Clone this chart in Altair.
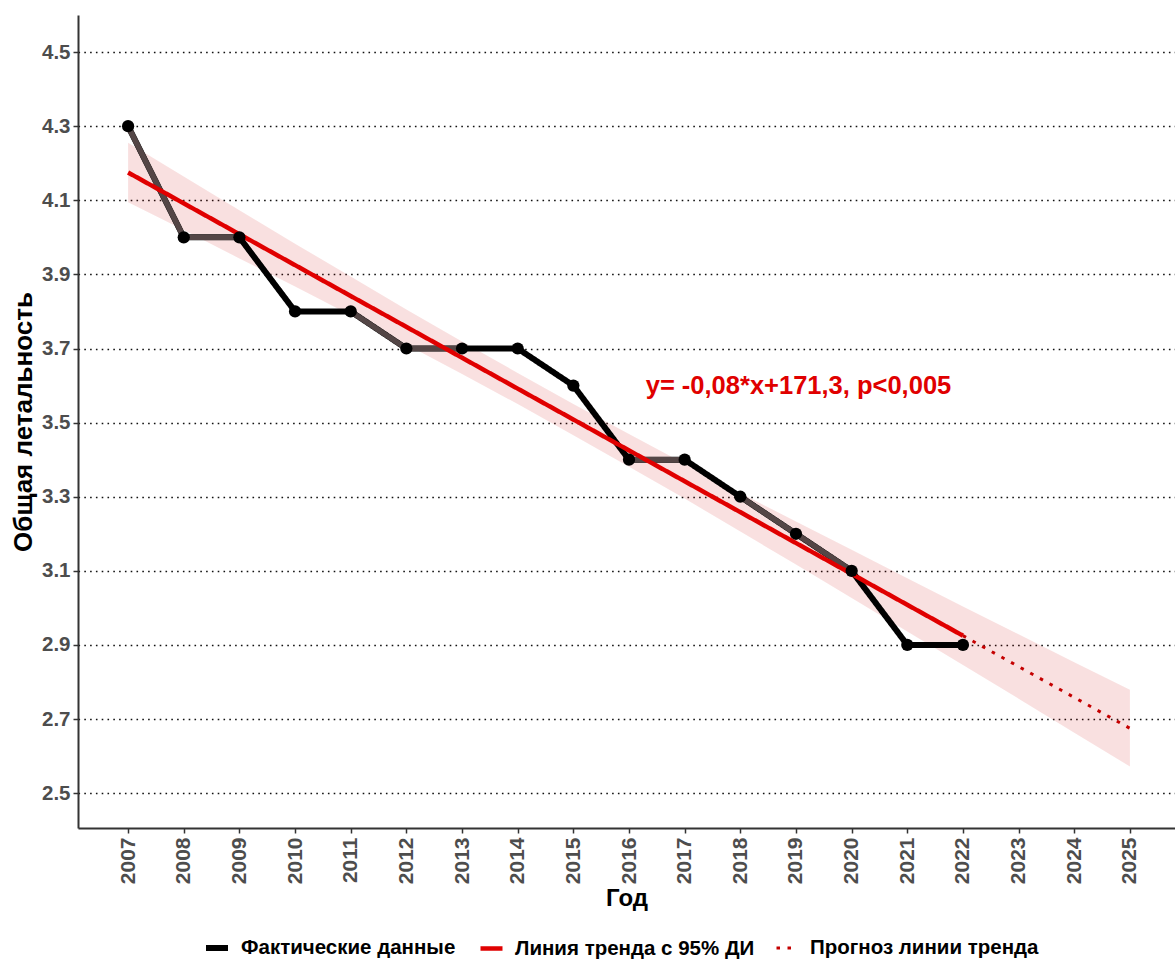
import altair as alt
import pandas as pd

# ---------------- data ----------------
YEARS = [2007, 2008, 2009, 2010, 2011, 2012, 2013, 2014, 2015,
         2016, 2017, 2018, 2019, 2020, 2021, 2022]
LETHALITY = [4.3, 4.0, 4.0, 3.8, 3.8, 3.7, 3.7, 3.7, 3.6,
             3.4, 3.4, 3.3, 3.2, 3.1, 2.9, 2.9]
# tone of each segment between consecutive years (1 = greyish, 0 = black)
SEGMENT_TONE = [1, 1, 0, 0, 1, 1, 0, 0, 0, 1, 0, 1, 1, 0, 0]

TREND_YEARS = [2007, 2022]
TREND_VALUES = [4.175, 2.925]
FORECAST_YEARS = [2022, 2025]
FORECAST_VALUES = [2.925, 2.675]

CI_YEARS = [2007, 2008, 2009, 2010, 2011, 2012, 2013, 2014, 2015, 2016,
            2017, 2018, 2019, 2020, 2021, 2022, 2023, 2024, 2025]
CI_LOWER = [4.095, 4.020, 3.943, 3.867, 3.790, 3.711, 3.631, 3.550, 3.466, 3.381,
            3.295, 3.206, 3.117, 3.027, 2.936, 2.846, 2.755, 2.663, 2.572]
CI_UPPER = [4.255, 4.164, 4.073, 3.983, 3.894, 3.805, 3.719, 3.634, 3.550, 3.469,
            3.389, 3.310, 3.233, 3.157, 3.080, 3.004, 2.929, 2.853, 2.779]

X_TICKS = [2007, 2008, 2009, 2010, 2011, 2012, 2013, 2014, 2015, 2016,
           2017, 2018, 2019, 2020, 2021, 2022, 2023, 2024, 2025]
Y_TICKS = [2.5, 2.7, 2.9, 3.1, 3.3, 3.5, 3.7, 3.9, 4.1, 4.3, 4.5]

SERIES = ["Фактические данные", "Линия тренда с 95% ДИ", "Прогноз линии тренда"]
EQUATION = "y= -0,08*x+171,3, p<0,005"
EQ_X = 2016.3
EQ_Y = 3.6

FONT = "Liberation Sans"

# ---------------- tables ----------------
actual_df = pd.DataFrame({"year": YEARS, "value": LETHALITY, "series": SERIES[0]})
trend_df = pd.concat([
    pd.DataFrame({"year": TREND_YEARS, "value": TREND_VALUES, "series": SERIES[1]}),
    pd.DataFrame({"year": FORECAST_YEARS, "value": FORECAST_VALUES, "series": SERIES[2]}),
])
ci_df = pd.DataFrame({"year": CI_YEARS, "lower": CI_LOWER, "upper": CI_UPPER})
seg_df = pd.DataFrame({
    "x1": YEARS[:-1], "x2": YEARS[1:],
    "y1": LETHALITY[:-1], "y2": LETHALITY[1:],
    "tone": SEGMENT_TONE,
})
seg_df = seg_df[seg_df["tone"] == 1]
eq_df = pd.DataFrame({"x": [EQ_X], "y": [EQ_Y], "t": [EQUATION]})

# ---------------- scales / axes ----------------
x_scale = alt.Scale(domain=[2006.1, 2025.81], nice=False, zero=False)
y_scale = alt.Scale(domain=[2.406, 4.6], nice=False, zero=False)

x_axis = alt.Axis(values=X_TICKS, format="d", labelAngle=270, title="Год", grid=False,
                  labelFontSize=21, labelFontWeight="bold", labelColor="#4d4d4d",
                  labelPadding=4, tickSize=5, tickColor="#333333", tickWidth=1.5,
                  domainColor="#333333", domainWidth=2,
                  titleFontSize=24, titleFontWeight="bold", titleColor="#000000",
                  titlePadding=3)
y_axis = alt.Axis(values=Y_TICKS, format=".1f", title="Общая летальность", grid=True,
                  gridColor="#111111", gridDash=[1.6, 4.2], gridWidth=1.5,
                  labelFontSize=20.5, labelFontWeight="bold", labelColor="#4d4d4d",
                  labelPadding=3, tickSize=5, tickColor="#333333", tickWidth=1.5,
                  domainColor="#333333", domainWidth=2,
                  titleFontSize=26, titleFontWeight="bold", titleColor="#000000",
                  titlePadding=5)

legend = alt.Legend(title=None, orient="none", legendX=125, legendY=919,
                    direction="horizontal", symbolType="stroke", symbolSize=484,
                    labelFont=FONT, labelFontSize=20.5, labelFontWeight="bold",
                    labelColor="#000000", labelOffset=10, columnPadding=15,
                    labelLimit=0, symbolStrokeWidth=3)

color_enc = alt.Color("series:N", scale=alt.Scale(domain=SERIES,
                      range=["#000000", "#e00000", "#c40000"]), legend=legend)
dash_enc = alt.StrokeDash("series:N", scale=alt.Scale(domain=SERIES,
                          range=[[1, 0], [1, 0], [3.5, 7.5]]), legend=legend)
width_enc = alt.StrokeWidth("series:N", scale=alt.Scale(domain=SERIES,
                            range=[6, 3, 3.5]), legend=legend)

# ---------------- layers ----------------
band = alt.Chart(ci_df).mark_area(color="#cc0000", opacity=0.12).encode(
    x=alt.X("year:Q", scale=x_scale, axis=x_axis),
    y=alt.Y("lower:Q", scale=y_scale, axis=y_axis),
    y2="upper:Q",
)

actual_line = alt.Chart(actual_df).mark_line(strokeJoin="round").encode(
    x=alt.X("year:Q", scale=x_scale, axis=x_axis),
    y=alt.Y("value:Q", scale=y_scale, axis=y_axis),
    color=color_enc, strokeDash=dash_enc, strokeWidth=width_enc,
)

grey_segments = alt.Chart(seg_df).mark_rule(color="#544646", strokeWidth=5.5).encode(
    x=alt.X("x1:Q", scale=x_scale), x2="x2:Q",
    y=alt.Y("y1:Q", scale=y_scale), y2="y2:Q",
)

trend_lines = alt.Chart(trend_df).mark_line().encode(
    x=alt.X("year:Q", scale=x_scale, axis=x_axis),
    y=alt.Y("value:Q", scale=y_scale, axis=y_axis),
    color=color_enc, strokeDash=dash_enc, strokeWidth=width_enc,
)

points = alt.Chart(actual_df).mark_circle(size=150, color="#000000", opacity=1).encode(
    x=alt.X("year:Q", scale=x_scale),
    y=alt.Y("value:Q", scale=y_scale),
)

equation = alt.Chart(eq_df).mark_text(align="left", baseline="middle", font=FONT,
                                      fontSize=25.5, fontWeight="bold",
                                      color="#e00000").encode(
    x=alt.X("x:Q", scale=x_scale),
    y=alt.Y("y:Q", scale=y_scale),
    text="t:N",
)

chart = alt.layer(band, actual_line, grey_segments, trend_lines, points, equation).properties(
    width=1097, height=813,
    autosize=alt.AutoSizeParams(type="none"),
    padding={"left": 78, "top": 15, "right": 0, "bottom": 133},
    background="#ffffff",
).configure_view(stroke=None).configure_axis(
    labelFont=FONT, titleFont=FONT
).configure_legend(labelFont=FONT)

chart.save("out.html", embed_options={"renderer": "svg", "actions": False})
